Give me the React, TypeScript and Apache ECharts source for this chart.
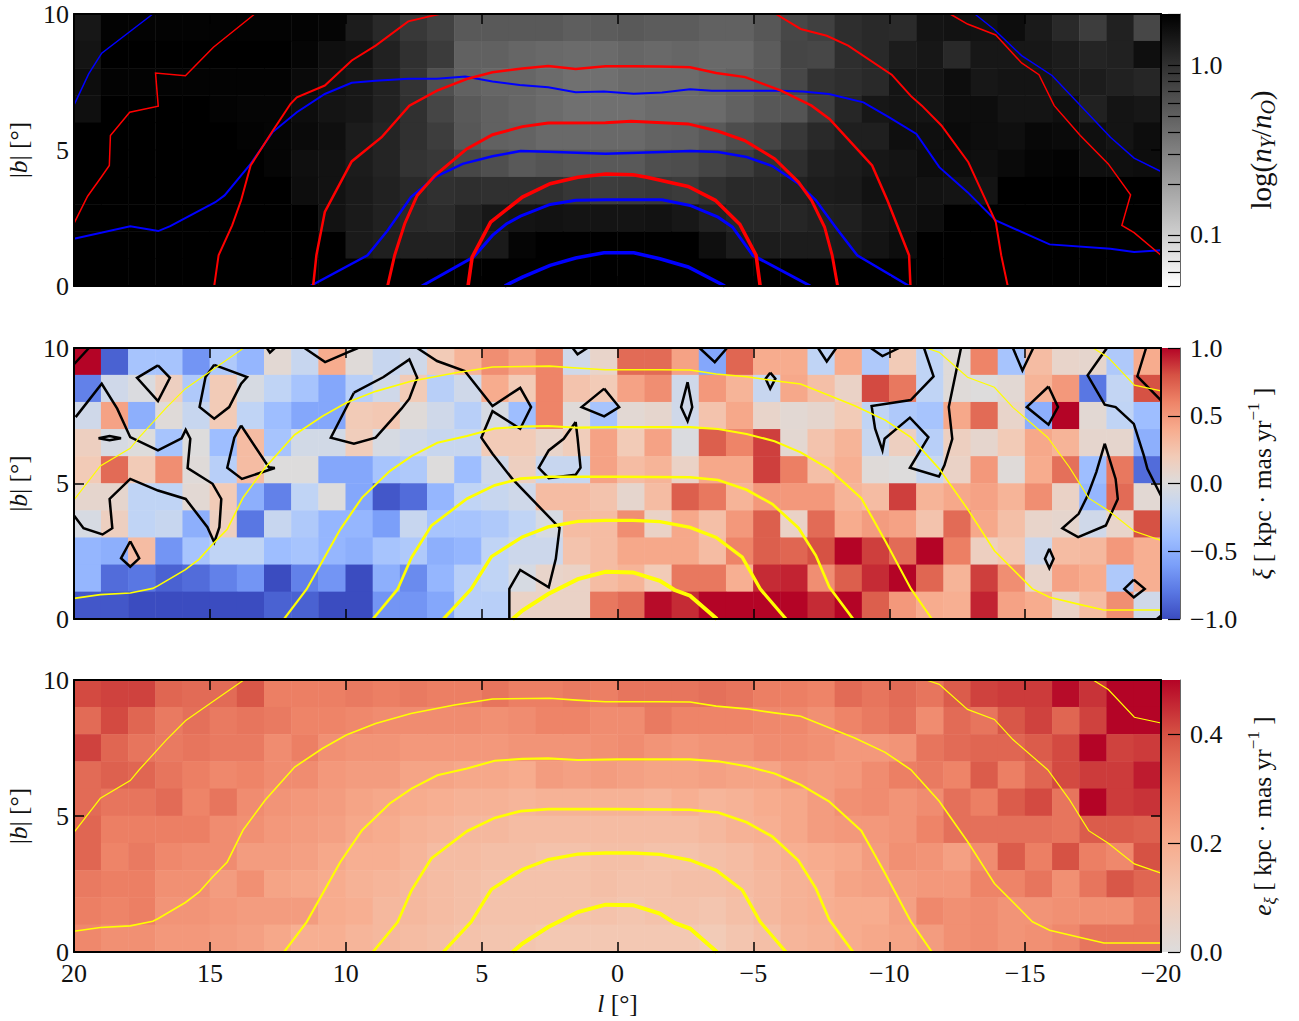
import React, { useEffect, useRef } from "react";
import * as echarts from "echarts";

// bin centres
const lBins = ["19.5","18.5","17.5","16.5","15.5","14.5","13.5","12.5","11.5","10.5","9.5","8.5","7.5","6.5","5.5","4.5","3.5","2.5","1.5","0.5","-0.5","-1.5","-2.5","-3.5","-4.5","-5.5","-6.5","-7.5","-8.5","-9.5","-10.5","-11.5","-12.5","-13.5","-14.5","-15.5","-16.5","-17.5","-18.5","-19.5"];
const bBins = ["0.5","1.5","2.5","3.5","4.5","5.5","6.5","7.5","8.5","9.5"];

// Panel 1: position on the colour bar (0 = bottom, 100 = top, log scale), rows from b = 10 to b = 0
const ratioRows = [
[91,99,99,99,99,99,99,99,99,98, 89,84,78,74,65,65,65,65,63,64, 65,64,64,62,62,66,72,75,82,84, 83,92,93,93,95,90,84,76,87,72],
[92,100,100,100,100,100,100,100,98,94, 93,87,81,77,62,62,60,59,58,58, 60,59,60,59,59,64,73,72,82,84, 89,91,84,91,91,91,89,86,87,94],
[95,99,99,99,99,99,99,99,96,93, 91,87,80,69,62,60,60,58,56,56, 58,58,58,60,62,65,72,80,82,84, 92,92,95,91,92,92,90,89,87,85],
[94,100,100,100,100,99,98,98,95,92, 91,87,81,73,65,62,60,58,56,56, 56,58,58,58,62,66,67,76,85,91, 92,92,95,95,92,92,94,87,92,91],
[100,100,100,100,100,100,99,98,96,94, 89,86,81,76,66,62,61,59,59,59, 59,61,62,65,70,73,78,84,88,88, 94,94,96,95,94,97,96,94,92,95],
[100,100,100,100,100,100,100,98,94,93, 89,86,80,78,72,69,65,67,66,65, 65,69,70,73,76,81,82,87,89,91, 92,95,95,94,96,98,99,94,94,95],
[100,100,100,100,100,100,100,100,95,93, 90,87,84,81,82,81,81,81,79,76, 77,78,77,81,84,84,87,89,90,93, 93,93,92,92,100,100,100,100,100,100],
[100,100,100,100,100,100,100,100,100,93, 90,87,84,83,87,91,92,93,92,92, 92,93,91,87,85,85,85,87,88,91, 93,95,100,100,100,100,100,100,100,100],
[100,100,100,100,100,100,100,100,100,100, 90,88,87,87,89,90,98,100,100,100, 100,100,100,94,89,89,89,89,90,92, 95,100,100,100,100,100,100,100,100,100],
[100,100,100,100,100,100,100,100,100,100, 100,100,100,100,100,100,100,100,100,100, 100,100,100,100,100,100,100,100,100,100, 100,100,100,100,100,100,100,100,100,100],
];

// Panel 2: xi
const xiRows = [
[1,-.9,-.35,-.35,-.65,-.3,-.45,.05,-.15,.4, .02,-.15,-.1,.2,.35,.55,.45,.6,-.1,.1, .7,.7,.45,-.55,.72,.4,.4,-.2,.4,-.3, .2,-.2,.02,.6,-.35,.3,.1,.08,-.3,.4],
[-.75,-.1,-.02,.15,-.3,.2,-.05,-.2,-.35,-.55, -.25,-.1,.2,-.25,-.1,.4,.2,.6,.25,.2, .45,.55,-.1,.5,.35,-.15,.42,.28,.12,.82, .65,-.2,.02,0,.05,.35,.5,-.8,-.18,.8],
[-.1,.45,-.5,.02,-.15,.2,-.2,-.4,-.55,-.55, .2,.22,.02,-.1,-.25,-.05,-.4,.6,.02,-.35, .05,.08,-.1,.25,.42,.1,.05,.08,.2,-.2, -.3,-.35,.42,.7,.1,-.5,1,.05,-.2,-.4],
[.15,-.05,0,-.35,0,-.4,.3,-.35,-.08,-.08, .18,-.05,-.1,-.15,-.15,.2,.2,.1,.18,.45, .2,.45,-.02,.75,.6,.85,.06,.25,.35,-.15, .15,-.25,.15,.08,.2,.42,.35,.08,.08,-.5],
[.2,.7,.2,.55,.02,-.25,.3,0,0,-.55, -.55,-.35,-.3,0,-.4,-.1,.15,-.15,-.15,.45, .3,.35,.12,.42,.42,.85,.62,.28,.38,.02, 0,-.15,.12,.5,.02,.4,.68,-.4,.65,-.85],
[.08,.08,-.2,-.2,.05,.2,-.5,-.75,-.2,0, -.55,-.95,-.85,-.45,-.2,-.15,-.1,.3,.3,.25, .08,.3,.75,.65,.35,.5,.5,.5,.35,.3, .85,.35,.42,.45,.35,.55,.12,-.45,.7,.05],
[-.05,.15,-.2,-.15,-.5,.15,-.8,-.15,-.3,-.45, -.45,-.6,-.15,-.35,-.35,-.3,-.2,-.05,.3,.3, .55,.12,.42,.28,.5,.75,.12,.7,.4,.48, .45,.25,.7,.42,.28,.1,.08,-.1,.1,.8],
[-.45,-.5,.3,-.65,-.35,-.2,-.2,-.4,-.35,-.45, -.5,-.35,-.3,-.5,-.45,-.2,-.12,-.12,.25,.3, .42,.42,.42,.3,.6,.75,.72,.8,1,.85, .7,1,.62,.15,.22,-.12,.3,.32,.5,.38],
[-.45,-.85,-.8,-.9,-.85,-.75,-.65,-1,-.75,-.65, -1,-.5,-.7,-.45,-.25,-.2,-.05,.1,.12,.3, .35,.2,.65,.65,.38,.9,.92,.55,.75,.9, 1,.72,.35,.85,.55,.1,.45,.4,-.3,.38],
[-.95,-.95,-1,-1,-1,-1,-1,-.9,-.9,-1, -1,-.65,-.65,-.55,-.25,-.25,.12,.12,.12,.65, .7,.98,.9,1,1,1,1,.9,1,.75, .5,.4,.38,.92,.45,.4,.12,.3,.55,-.1],
];

// Panel 3: e_xi
const errRows = [
[.41,.42,.42,.36,.35,.35,.39,.31,.31,.31, .32,.31,.32,.31,.31,.33,.31,.31,.32,.31, .33,.33,.33,.34,.33,.31,.31,.30,.35,.33, .35,.33,.38,.42,.43,.43,.49,.44,.5,.5],
[.35,.41,.36,.32,.34,.32,.33,.32,.30,.30, .29,.28,.28,.28,.28,.27,.28,.30,.30,.28, .28,.32,.30,.30,.30,.29,.29,.27,.30,.32, .34,.28,.35,.33,.39,.42,.36,.42,.5,.5],
[.42,.36,.33,.32,.33,.32,.32,.28,.31,.27, .26,.26,.25,.25,.25,.25,.26,.26,.26,.27, .28,.26,.25,.26,.26,.28,.28,.27,.25,.25, .26,.33,.35,.36,.36,.38,.41,.5,.42,.43],
[.35,.37,.36,.33,.31,.29,.30,.28,.28,.25, .24,.24,.22,.22,.21,.21,.20,.24,.23,.24, .23,.22,.22,.23,.22,.22,.25,.24,.25,.28, .31,.32,.30,.38,.31,.36,.41,.43,.43,.47],
[.35,.33,.33,.35,.30,.33,.28,.26,.25,.24, .22,.21,.20,.19,.18,.18,.17,.18,.18,.18, .18,.17,.19,.17,.18,.20,.21,.24,.27,.28, .26,.28,.34,.31,.38,.41,.33,.5,.43,.44],
[.36,.31,.31,.31,.31,.28,.27,.25,.24,.23, .21,.20,.18,.17,.16,.16,.15,.15,.15,.15, .15,.15,.15,.16,.18,.19,.21,.24,.25,.25, .26,.30,.34,.34,.34,.34,.33,.38,.38,.37],
[.36,.30,.32,.29,.28,.28,.24,.24,.23,.21, .19,.19,.17,.15,.15,.14,.14,.13,.13,.14, .14,.13,.13,.14,.15,.17,.19,.20,.21,.24, .27,.26,.23,.28,.38,.31,.40,.31,.29,.40],
[.32,.31,.31,.27,.27,.24,.27,.22,.21,.20, .18,.17,.16,.15,.14,.13,.13,.13,.13,.14, .13,.13,.14,.14,.15,.16,.18,.19,.22,.23, .24,.25,.25,.30,.30,.33,.27,.33,.39,.36],
[.31,.30,.31,.26,.26,.25,.24,.24,.24,.20, .19,.16,.16,.15,.14,.13,.13,.13,.13,.13, .12,.13,.13,.12,.14,.16,.18,.19,.20,.20, .23,.29,.27,.28,.26,.26,.27,.27,.27,.32],
[.29,.27,.27,.25,.25,.24,.23,.21,.19,.19, .17,.16,.15,.14,.13,.12,.12,.11,.11,.11, .11,.11,.11,.10,.12,.14,.17,.18,.20,.21, .22,.24,.27,.28,.26,.27,.29,.33,.33,.33],
];

type Pt = [number, number];

// Contours, [l, b]. Width goes with the order of the list.
const redContours: Pt[][][] = [
  [
    [[20,2.3],[19.5,3.3],[19,4],[18.7,4.43],[18.66,5.53],[17.95,6.39],[16.9,6.61],[17,7.83],[15.9,7.73],[14.87,8.78],[13.35,10]],
    [[-12.24,10],[-12.88,9.63],[-13.92,9.23],[-14.87,8.2],[-15.51,7.77],[-16.07,6.63],[-17.03,5.53],[-18.06,4.49],[-18.88,3.35],[-18.56,2.23],[-19.01,1.96],[-20,1.13]],
  ],
  [[[14.84,0],[14.68,1.13],[14.18,2.23],[13.85,3.15],[13.5,4.43],[12.68,5.72],[12.03,6.7],[11.8,6.94],[10.77,7.37],[9.78,8.29],[8.9,8.84],[7.7,9.73],[6.8,9.94],[6.55,10]],
   [[-5.83,10],[-6.74,9.45],[-7.7,9.2],[-8.49,8.84],[-10.09,7.77],[-10.8,6.98],[-11.2,6.63],[-11.92,5.9],[-12.91,4.55],[-13.92,2.35],[-14.12,1.13],[-14.36,0]]],
  [[[11.2,0],[11.08,1.13],[10.77,2.72],[9.78,4.58],[8.68,5.47],[7.66,6.63],[6.64,7.18],[5.55,7.61],[4.6,7.86],[3.5,8],[2.55,8.09],[1.54,7.98],[.44,8.08],[-.57,8.08],[-1.56,8.07],[-2.67,8.04],[-3.63,7.83],[-4.7,7.68],[-6.02,7.18],[-7.14,6.63],[-7.8,6.14],[-9.37,4.43],[-9.93,3.15],[-10.73,1.13],[-10.78,0]]],
  [[[8.46,0],[8.2,1.13],[7.83,2.29],[7.37,3.33],[6.72,4.06],[5.55,5.04],[4.6,5.56],[3.5,5.86],[2.55,5.99],[.44,6],[-.5,6.06],[-2.6,5.96],[-3.71,5.69],[-4.67,5.35],[-5.78,4.68],[-6.66,3.82],[-7.14,3.15],[-7.62,2.17],[-7.9,1.13],[-8.1,0]]],
  [[[5.5,0],[5.35,1.06],[4.67,2.35],[3.5,3.27],[2.48,3.76],[1.46,4],[.44,4.12],[-.57,4.09],[-1.08,4],[-2.6,3.66],[-3.6,3.15],[-4.5,2.27],[-5.1,1.13],[-5.25,0]]],
];
const blueContours: Pt[][][] = [
  [
    [[20,6.65],[19.46,7.8],[18.98,8.56],[17.1,10]],
    [[-13.15,10],[-13.84,9.45],[-14.87,8.47],[-15.99,7.74],[-18.14,5.47],[-19.01,4.7],[-20,4.21]],
  ],
  [[[20,1.74],[17.93,2.2],[16.9,2.02],[16.46,2.2],[14.8,3.08],[14.46,3.33],[13.5,4.49],[12.7,5.65],[11.8,6.39],[10.77,7.06],[9.78,7.47],[8.9,7.55],[7.7,7.62],[6.64,7.62],[5.6,7.7],[4.6,7.52],[3.6,7.39],[2.55,7.31],[1.54,7.12],[.5,7.15],[-.6,7.07],[-1.64,7.11],[-2.67,7.23],[-3.47,7.18],[-6.02,7.18],[-6.82,7.15],[-7.78,7.06],[-9.05,6.75],[-10,6.2],[-11,5.59],[-11.84,4.37],[-12.88,3.45],[-13.92,2.41],[-15.9,1.53],[-18.14,1.37],[-19.01,1.25],[-20,1.31]]],
  [[[11.3,0],[9.2,1.13],[8.46,2.04],[7.6,3.27],[6.72,4],[5.7,4.49],[4.6,4.77],[3.57,4.96],[2.55,4.94],[.44,4.86],[-1.64,4.93],[-2.67,4.96],[-3.7,4.93],[-4.75,4.74],[-5.7,4.41],[-6.66,3.76],[-7.3,3.15],[-8.02,2.17],[-8.82,1.13],[-10.73,0]]],
  [[[7.2,0],[5.3,1.06],[4.6,1.86],[4.08,2.29],[3.57,2.57],[2.48,3],[1.54,3.15],[.44,3.17],[-1.64,3.17],[-2.67,2.96],[-3.7,2.53],[-4.23,2.17],[-4.98,1.13],[-7.1,0]]],
  [[[4.15,0],[3.5,.33],[2.48,.76],[1.54,1.03],[.5,1.22],[-.6,1.22],[-1.56,1],[-2.6,.7],[-3.95,0]]],
];
const yellowContours: Pt[][][] = [
  [
    [[20,4.4],[19.03,5.65],[17.93,6.3],[17.6,6.7],[16.6,7.8],[15.9,8.5],[14.9,9.2],[13.75,10]],
    [[-17.5,10],[-18.06,9.65],[-19.02,8.63],[-20,8.42]],
    [[-11.36,10],[-11.84,9.84],[-12.88,8.92],[-13.87,8.55],[-14.55,7.81],[-15.83,6.7],[-16.63,5.6],[-17.34,4.46],[-18.06,4],[-19.02,3.24],[-20,2.9]],
  ],
  [[[20,.76],[19.03,.9],[17.93,.96],[17.1,1.13],[16.9,1.23],[15.9,1.82],[15.4,2.2],[14.9,2.76],[14.36,3.31],[13.78,4.48],[12.97,5.58],[11.88,6.8],[10.86,7.48],[9.98,7.98],[8.9,8.4],[7.6,8.77],[6,9.08],[4.6,9.3],[2.5,9.33],[1.5,9.26],[.45,9.2],[-.57,9.2],[-1.56,9.2],[-2.67,9.19],[-3.63,9.04],[-4.75,8.94],[-5.78,8.79],[-6.74,8.67],[-8.73,7.87],[-9.85,7.34],[-10.8,6.7],[-11.84,5.54],[-12.88,4.06],[-13.87,2.52],[-15.27,1.11],[-15.9,.8],[-17.03,.53],[-17.9,.33],[-20,.33]]],
  [[[12.27,0],[11.44,1.1],[10.2,3.31],[9.4,4.48],[8.38,5.46],[7.58,6.01],[6.63,6.5],[5.54,6.75],[4.52,7.03],[3.5,7.1],[2.55,7.12],[1.46,7.06],[0,7.08],[-2.67,7.08],[-3.7,7.01],[-4.75,6.83],[-5.78,6.56],[-6.74,6.15],[-7.78,5.54],[-8.97,4.46],[-9.85,2.89],[-10.8,1.11],[-11.57,0]]],
  [[[9,0],[8.09,1.1],[7.58,2.27],[6.85,3.44],[5.54,4.44],[4.52,4.93],[3.57,5.18],[2.55,5.25],[0,5.25],[-2.67,5.23],[-3.7,5.13],[-4.75,4.77],[-5.7,4.24],[-6.66,3.36],[-7.3,2.34],[-7.8,1.17],[-8.67,0]]],
  [[[6.41,0],[5.39,1.1],[4.64,2.3],[3.5,3.03],[2.55,3.4],[1.46,3.6],[.44,3.64],[-.57,3.64],[-1.56,3.59],[-2.67,3.38],[-3.63,3.01],[-4.59,2.28],[-5.25,1.11],[-6.2,0]]],
  [[[3.86,0],[3.5,.31],[2.55,.92],[1.46,1.47],[.44,1.74],[-.57,1.72],[-1.56,1.41],[-2.1,1.07],[-2.67,.86],[-3.66,0]]],
];
const blackOpen: Pt[][] = [
  [[20,9.4],[19.45,10]],
  [[19.94,7.45],[18.98,8.68],[18.41,7.76],[17.93,6.71],[16.91,6.22],[16.04,6.67],[15.89,6.98],[15.72,6.65],[15.82,5.57],[14.9,4.99],[14.58,4.43],[14.65,3.39],[14.84,2.83],[15.09,3.39],[15.89,4.43],[16.91,4.74],[17.93,5.17],[18.69,4.43],[18.59,3.35],[18.95,3.12],[19.65,3.35],[20,3.82]],
  [[12.9,10],[12.79,9.83],[12.61,10]],
  [[11.52,10],[10.76,9.48],[9.95,9.83],[9.55,10]],
  [[7.37,10],[6.64,9.52],[5.62,9.15],[4.6,7.86],[3.58,8.53],[3.18,7.82],[3.58,7.02],[4.6,7.67],[5.01,6.69],[4.6,6.1],[3.87,5.17],[2.13,3.36],[2.27,2.22],[2.53,1.17],[3.58,1.81],[3.98,1.11],[3.98,0]],
  [[1.65,10],[1.47,9.77],[1.11,10]],
  [[-3.02,10],[-3.58,9.48],[-4.03,10]],
  [[-7.38,10],[-7.7,9.5],[-8.05,10]],
  [[-9.32,10],[-9.75,9.7],[-10.36,10]],
  [[-11.28,10],[-11.63,8.95],[-10.79,8.08],[-9.35,7.86],[-9.48,7.02],[-9.75,6.22],[-9.83,6.65],[-10.76,7.43],[-11.44,6.71],[-10.76,5.58],[-11.83,5.26],[-12.03,5.67],[-12.32,6.65],[-12.19,7.82],[-12.64,10]],
  [[-14.55,10],[-14.9,9.17],[-15.3,10]],
  [[-18.01,10],[-17.3,8.99],[-17.93,7.91],[-18.33,7.82],[-19,7.2],[-19.37,6.03],[-19.5,5.54],[-20,4.55]],
  [[-19.45,10],[-19.13,8.95],[-20,8.07]],
  [[-20,.12],[-19.85,0]],
];
const blackClosed: Pt[][] = [
  [[19.1,6.67],[18.69,6.75],[18.27,6.67],[18.69,6.6]],
  [[17.93,2.87],[17.6,2.24],[17.93,1.93],[18.27,2.24]],
  [[16.91,9.36],[16.47,8.9],[16.91,8.04],[17.68,8.9]],
  [[14.84,9.38],[13.63,8.93],[13.85,8.68],[14.29,7.82],[14.84,7.39],[15.38,7.82],[15.16,8.93]],
  [[13.85,7.14],[12.83,5.6],[12.61,5.57],[13.82,5.17],[14.36,5.58],[14.1,6.69]],
  [[9.7,8.35],[8.61,8.93],[7.66,9.58],[7.37,8.9],[7.66,8.13],[7.95,7.76],[8.9,6.69],[9.7,6.47],[10.55,6.69]],
  [[1.54,7.27],[1.47,6.69],[1.36,5.58],[1.54,5.32],[2.53,5.2],[2.9,5.58],[2.53,6.22],[1.98,6.65]],
  [[.49,8.5],[-.06,7.82],[.49,7.48],[1.32,7.82]],
  [[-2.58,8.74],[-2.75,7.82],[-2.58,7.3],[-2.34,7.82]],
  [[-5.62,9.09],[-5.81,8.87],[-5.62,8.5],[-5.45,8.87]],
  [[-15.86,8.58],[-16.21,7.82],[-15.86,7.17],[-15.06,7.82]],
  [[-17.93,6.47],[-18.33,5.17],[-18.41,4.43],[-17.97,3.45],[-16.95,3.02],[-16.37,3.35],[-16.97,3.88],[-17.3,4.56],[-17.62,5.42]],
  [[-15.89,2.59],[-16.05,2.22],[-15.89,1.87],[-15.73,2.22]],
  [[-19,1.45],[-19.4,1.11],[-19,.8],[-18.65,1.11]],
];

const xTicks = [20, 15, 10, 5, 0, -5, -10, -15, -20];
const ratioTicks = [0.05, 0.06, 0.07, 0.08, 0.09, 0.1, 0.2, 0.3, 0.4, 0.5, 0.6, 0.7, 0.8, 0.9, 1, 2];
const ratioLabels = [0.1, 1];
const xiTicks = [-1, -0.5, 0, 0.5, 1];
const errTicks = [0, 0.2, 0.4];

const grayStops = ["#ffffff", "#000000"];
const coolwarm = ["#3b4cc0","#5977e3","#7b9ff9","#9ebeff","#c0d4f5","#dddcdc","#f2cbb7","#f7ac8e","#ee8468","#d65244","#b40426"];
const warmHalf = coolwarm.slice(5);

const FONT = "Liberation Serif";
const TEXT = "#111";
const FS = 26;
const NAME_FS = 25.5;

const makeRich = (size: number, small: number) => ({
  i: { fontFamily: FONT, fontStyle: "italic", fontSize: size, lineHeight: 34, color: TEXT },
  t: { fontFamily: FONT, fontSize: size, lineHeight: 34, color: TEXT },
  s: { fontFamily: FONT, fontStyle: "italic", fontSize: small, lineHeight: small + 2, verticalAlign: "bottom", color: TEXT },
  u: { fontFamily: FONT, fontSize: small, lineHeight: small + 2, verticalAlign: "top", color: TEXT },
});
const richBase = makeRich(NAME_FS, 17);
const richLog = makeRich(29, 20);

const panels = [
  { top: 14, height: 272, rows: ratioRows, min: 0, max: 100, colors: grayStops,
    cMin: Math.log10(0.05), cMax: Math.log10(2),
    ticks: ratioTicks.map(Math.log10), labels: ratioLabels.map(Math.log10),
    fmt: (v: number) => Math.pow(10, v).toFixed(1),
    name: "{t|log(}{i|n}{s|Y}{t|/}{i|n}{s|O}{t|)}", gap: 64, rich: richLog },
  { top: 348, height: 271, rows: xiRows, min: -1, max: 1, colors: coolwarm,
    cMin: -1, cMax: 1, ticks: xiTicks, labels: xiTicks,
    fmt: (v: number) => (v < 0 ? "\u2212" : "") + Math.abs(v).toFixed(1),
    name: "{i|ξ}{t| [ kpc · mas yr}{u|\u22121}{t| ]}", gap: 65, rich: richBase },
  { top: 680, height: 272, rows: errRows, min: 0, max: 0.5, colors: warmHalf,
    cMin: 0, cMax: 0.5, ticks: errTicks, labels: errTicks,
    fmt: (v: number) => v.toFixed(1),
    name: "{i|e}{s|ξ}{t| [ kpc · mas yr}{u|\u22121}{t| ]}", gap: 65, rich: richBase },
];

function buildOption() {
  const grid: any[] = [], xAxis: any[] = [], yAxis: any[] = [], series: any[] = [], visualMap: any[] = [];
  const tickBase = { show: true, inside: true, length: 10, lineStyle: { color: "#000", width: 1.5 } };
  const lineBase = { show: true, onZero: false, lineStyle: { color: "#000", width: 2 } };
  const addLines = (pieces: Pt[][], color: string, width: number, xi: number, yi: number) => {
    pieces.forEach((pts) => {
      series.push({ type: "line", xAxisIndex: xi, yAxisIndex: yi, data: pts, symbol: "none", showSymbol: false,
        silent: true, z: 3, animation: false, lineStyle: { color, width, join: "miter" } });
    });
  };
  panels.forEach((p, k) => {
    const a = 4 * k;
    grid.push({ left: 74, width: 1087, top: p.top, height: p.height, containLabel: false, outerBoundsMode: "none" });
    grid.push({ left: 1161, width: 19, top: p.top, height: p.height, containLabel: false, outerBoundsMode: "none" });
    const g = 2 * k;
    xAxis.push(
      { type: "category", gridIndex: g, data: lBins, show: false, boundaryGap: true },
      { type: "value", gridIndex: g, position: "bottom", min: -20, max: 20, interval: 5, inverse: true, z: 6,
        axisLine: lineBase, axisTick: tickBase, splitLine: { show: false },
        axisLabel: { show: k === 2, fontFamily: FONT, fontSize: FS, lineHeight: 19, color: TEXT, margin: 12,
          customValues: xTicks,
          formatter: (v: number) => (v < 0 ? "\u2212" : "") + Math.abs(v) },
        name: k === 2 ? "{i|l}{t| [°]}" : "", nameLocation: "middle", nameGap: 34,
        nameTextStyle: { fontFamily: FONT, fontSize: NAME_FS, color: TEXT, rich: richBase } },
      { type: "value", gridIndex: g, position: "top", min: -20, max: 20, interval: 5, inverse: true, z: 6,
        axisLine: lineBase, axisTick: tickBase, axisLabel: { show: false }, splitLine: { show: false } },
      { type: "value", gridIndex: g + 1, min: 0, max: 1, show: false },
    );
    yAxis.push(
      { type: "category", gridIndex: g, data: bBins, show: false, boundaryGap: true },
      { type: "value", gridIndex: g, position: "left", min: 0, max: 10, interval: 5, z: 6,
        axisLine: lineBase, axisTick: tickBase, splitLine: { show: false },
        axisLabel: { fontFamily: FONT, fontSize: FS, lineHeight: 19, color: TEXT, margin: 5 },
        name: "|{i|b}| [°]", nameLocation: "middle", nameGap: 39,
        nameRotate: 90,
        nameTextStyle: { fontFamily: FONT, fontSize: NAME_FS, color: TEXT, rich: richBase } },
      { type: "value", gridIndex: g, position: "right", min: 0, max: 10, interval: 5, z: 6,
        axisLine: lineBase, axisTick: tickBase, axisLabel: { show: false }, splitLine: { show: false } },
      { type: "value", gridIndex: g + 1, position: "right", min: p.cMin, max: p.cMax, z: 6,
        axisLine: { show: true, onZero: false, lineStyle: { color: "#666", width: 1 } },
        axisTick: { show: true, inside: true, length: 12, customValues: p.ticks, lineStyle: { color: "#000", width: 1.2 } },
        splitLine: { show: false },
        axisLabel: { fontFamily: FONT, fontSize: FS, lineHeight: 19, color: TEXT, margin: 10, customValues: p.labels, formatter: p.fmt },
        name: p.name, nameLocation: "middle", nameGap: p.gap, nameRotate: 90,
        nameTextStyle: { fontFamily: FONT, fontSize: NAME_FS, color: TEXT, rich: p.rich } },
    );

    const data: number[][] = [];
    p.rows.forEach((row, r) => row.forEach((v, c) => data.push([c, 9 - r, v])));
    visualMap.push({ type: "continuous", show: false, min: p.min, max: p.max, dimension: 2,
      seriesIndex: series.length, inRange: { color: p.colors } });
    series.push({ type: "heatmap", xAxisIndex: a, yAxisIndex: a, data, silent: true, z: 2, animation: false,
      itemStyle: { borderWidth: 0 }, emphasis: { disabled: true } });

    const stops = p.colors.map((color, i) => ({ offset: i / (p.colors.length - 1), color }));
    series.push({
      type: "custom", xAxisIndex: a + 3, yAxisIndex: a + 3, silent: true, z: 2, animation: false,
      data: [[0]],
      renderItem: (_: any, api: any) => {
        const lb = api.coord([0, p.cMin]);
        const rt = api.coord([1, p.cMax]);
        return { type: "rect",
          shape: { x: lb[0], y: rt[1], width: rt[0] - lb[0], height: lb[1] - rt[1] },
          style: { fill: new echarts.graphic.LinearGradient(0, 1, 0, 0, stops) } };
      },
    });

    if (k === 0) {
      const rw = [1.5, 2, 2.5, 3, 3.6];
      const bw = [1.5, 2, 2.5, 3, 3.6];
      blueContours.forEach((c, i) => addLines(c, "#0000ff", bw[i], a + 1, a + 1));
      redContours.forEach((c, i) => addLines(c, "#ff0000", rw[i], a + 1, a + 1));
    } else {
      if (k === 1) {
        addLines(blackOpen, "#000", 2.5, a + 1, a + 1);
        addLines(blackClosed.map((c) => [...c, c[0]]), "#000", 2.5, a + 1, a + 1);
      }
      const yw = [1.2, 1.6, 2.1, 2.7, 3.3, 4];
      yellowContours.forEach((c, i) => addLines(c, "#ffff00", yw[i], a + 1, a + 1));
    }
  });
  return { animation: false, backgroundColor: "#fff", grid, xAxis, yAxis, series, visualMap };
}

export default function App() {
  const ref = useRef<HTMLDivElement>(null);
  useEffect(() => {
    const chart = echarts.init(ref.current!, undefined, { renderer: "svg" });
    chart.setOption(buildOption() as any);
    return () => chart.dispose();
  }, []);
  return <div ref={ref} style={{ position: "absolute", left: 0, top: 0, width: 1299, height: 1021 }} />;
}
